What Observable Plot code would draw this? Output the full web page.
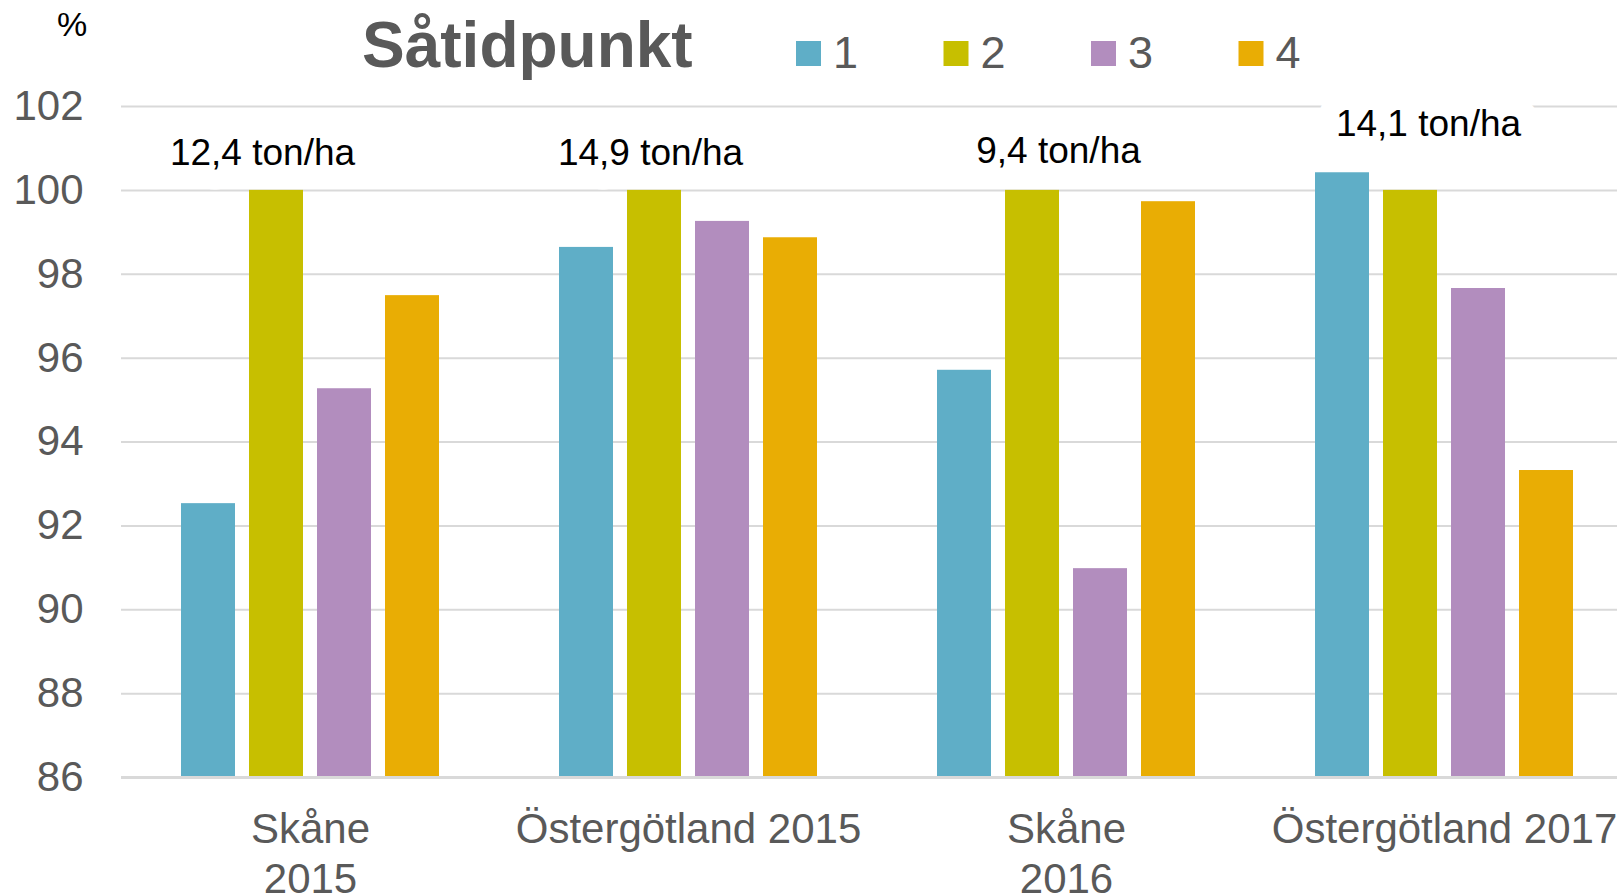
<!DOCTYPE html>
<html>
<head>
<meta charset="utf-8">
<script src="https://cdn.jsdelivr.net/npm/d3@7"></script>
<script src="https://cdn.jsdelivr.net/npm/@observablehq/plot@0.6"></script>
<style>
  html, body { margin: 0; padding: 0; background: #fff; overflow: hidden; }
  #wrap { position: relative; width: 1617px; height: 896px; overflow: hidden; background: #fff; }
  #wrap > svg.plot { position: absolute; left: 0; top: 0; max-width: none !important; }
  #header { position: absolute; left: 0; top: 0; }
</style>
</head>
<body>
<div id="wrap"></div>
<script>
// ---- data ----
const categories = ["Skåne\n2015", "Östergötland 2015", "Skåne\n2016", "Östergötland 2017"];
const seriesNames = ["1", "2", "3", "4"];
const series1 = [92.53, 98.64, 95.71, 100.42];
const series2 = [100.0, 100.0, 100.0, 100.0];
const series3 = [95.27, 99.26, 90.98, 97.66];
const series4 = [97.49, 98.87, 99.73, 93.32];
const yieldLabels = ["12,4 ton/ha", "14,9 ton/ha", "9,4 ton/ha", "14,1 ton/ha"];
const yieldLabelY = [100.89, 100.89, 100.93, 101.57];
const yTicks = [86, 88, 90, 92, 94, 96, 98, 100, 102];
const titleText = "Såtidpunkt";
const unitText = "%";

// ---- styles ----
const colors = ["#5FAEC7", "#C7BF00", "#B28DBE", "#E9AD04"];
const labelDx = [-48, -38, -8, -16];
const gray = "#595959";
const gridColor = "#d9d9d9";
const font = "'Liberation Sans', Arial, Helvetica, sans-serif";

const allSeries = [series1, series2, series3, series4];
const rows = [];
categories.forEach((c, i) => {
  seriesNames.forEach((s, j) => rows.push({cat: c, s, v: allSeries[j][i]}));
});
const yMin = yTicks[0], yMax = yTicks[yTicks.length - 1];

const labelMarks = yieldLabels.map((t, i) =>
  Plot.text([i], {
    fx: d => categories[d],
    y: d => yieldLabelY[d],
    text: d => yieldLabels[d],
    dx: labelDx[i],
    fontSize: 37,
    fill: "#000",
    stroke: "#fff",
    strokeWidth: 40,
    strokeLinejoin: "round"
  })
);

const chart = Plot.plot({
  width: 1633,
  height: 896,
  marginLeft: 120,
  marginRight: 0,
  marginTop: 106,
  marginBottom: 119,
  facet: {marginTop: 0, marginRight: 0, marginBottom: 0, marginLeft: 0},
  style: {fontFamily: font, background: "#fff", overflow: "visible", maxWidth: "none"},
  fx: {domain: categories, padding: 0, label: null},
  x: {domain: seriesNames, paddingInner: 0.2, paddingOuter: 0.855, axis: null},
  y: {domain: [yMin, yMax], label: null},
  color: {domain: seriesNames, range: colors},
  marks: [
    Plot.ruleY(yTicks.slice(1), {stroke: gridColor, strokeWidth: 2}),
    Plot.barY(rows, {fx: "cat", x: "s", y1: yMin, y2: "v", fill: "s"}),
    Plot.ruleY([yMin], {stroke: gridColor, strokeWidth: 3}),
    Plot.axisY(yTicks, {tickSize: 0, tickPadding: 38, fontSize: 42, fill: gray, label: null}),
    Plot.axisFx({anchor: "bottom", tickSize: 0, tickPadding: 31, fontSize: 42, fill: gray, label: null, lineHeight: 1.17}),
    ...labelMarks
  ]
});
chart.classList.add("plot");
chart.style.maxWidth = "none";
const wrap = document.getElementById("wrap");
wrap.appendChild(chart);

// header: unit, title, legend
const ns = "http://www.w3.org/2000/svg";
const header = document.createElementNS(ns, "svg");
header.setAttribute("id", "header");
header.setAttribute("width", 1617);
header.setAttribute("height", 100);
header.style.fontFamily = font;
function addText(txt, x, y, size, fill, weight) {
  const t = document.createElementNS(ns, "text");
  t.setAttribute("x", x); t.setAttribute("y", y);
  t.setAttribute("font-size", size); t.setAttribute("fill", fill);
  if (weight) t.setAttribute("font-weight", weight);
  t.textContent = txt;
  header.appendChild(t);
}
addText(unitText, 57, 36, 34, "#000");
addText(titleText, 362, 67, 64, gray, "bold");
const legendX0 = 796, legendStep = 147.5;
seriesNames.forEach((s, i) => {
  const x = legendX0 + i * legendStep;
  const r = document.createElementNS(ns, "rect");
  r.setAttribute("x", x); r.setAttribute("y", 41);
  r.setAttribute("width", 25); r.setAttribute("height", 25);
  r.setAttribute("fill", colors[i]);
  header.appendChild(r);
  addText(s, x + 37, 68, 45, gray);
});
wrap.appendChild(header);
</script>
</body>
</html>
